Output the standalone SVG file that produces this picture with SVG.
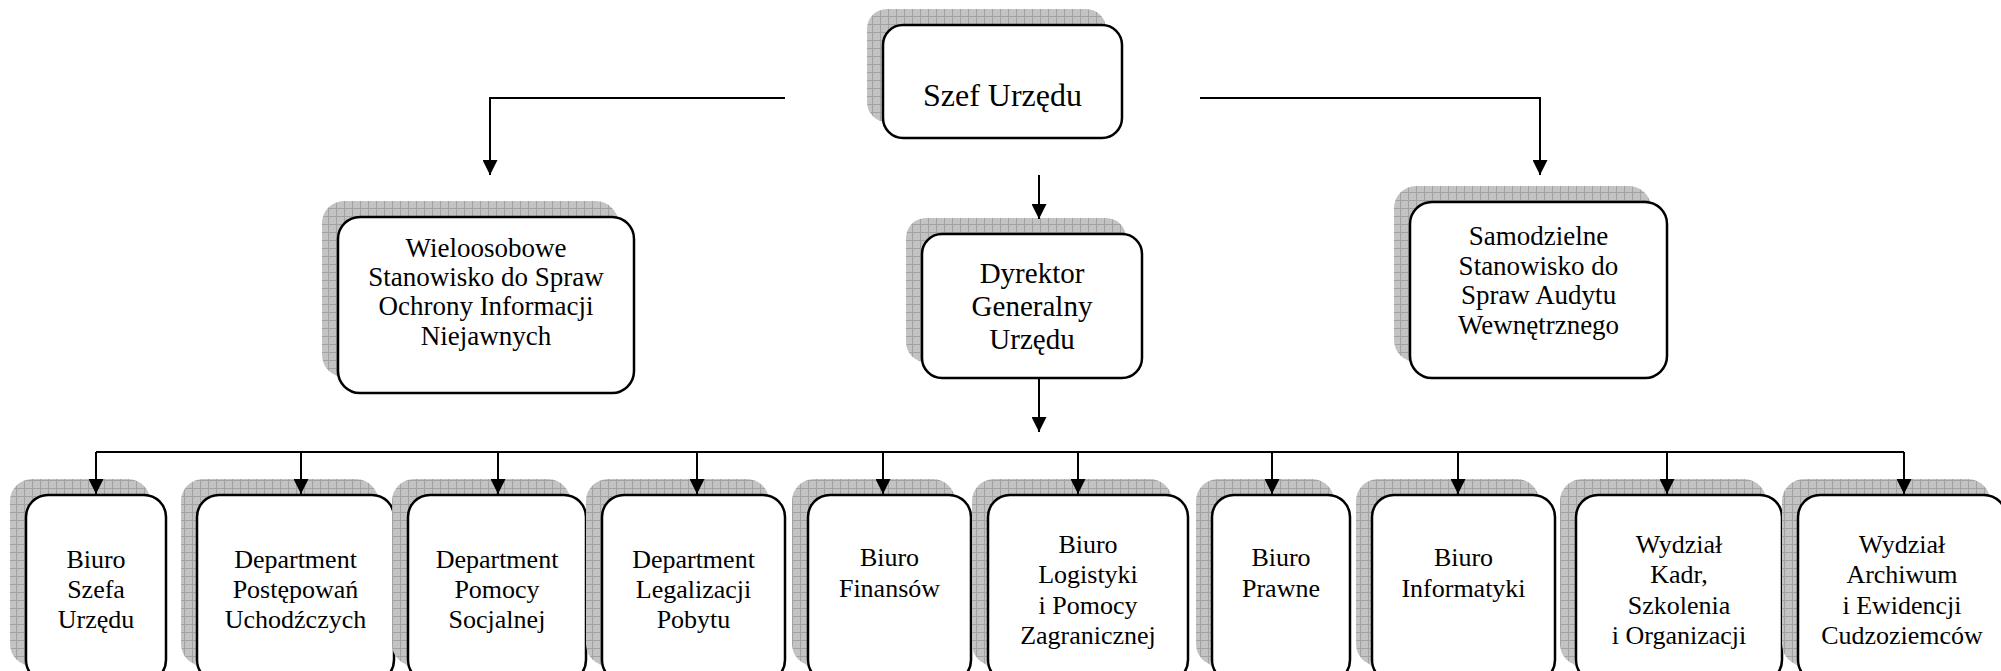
<svg xmlns="http://www.w3.org/2000/svg" width="2001" height="671" viewBox="0 0 2001 671">
<style>
.box{fill:#fff;stroke:#000;stroke-width:2.5}
.shd{fill:url(#grid);stroke:none}
.t{font-family:"Liberation Serif","Times New Roman",serif;fill:#000;text-anchor:middle}
.con{fill:none;stroke:#000;stroke-width:2}
</style>
<defs>
<pattern id="grid" width="8" height="8" patternUnits="userSpaceOnUse">
<rect width="8" height="8" fill="#c3c3c3"/>
<path d="M0,0.5H8M0.5,0V8" stroke="#a2a2a2" stroke-width="1"/>
</pattern>
<marker id="arr" viewBox="0 0 10 10" refX="10" refY="5" markerWidth="15" markerHeight="15" markerUnits="userSpaceOnUse" orient="auto">
<path d="M0,0L10,5L0,10z" fill="#000"/>
</marker>
</defs>
<rect width="2001" height="671" fill="#fff"/>

<g id="szef">
<rect class="shd" x="867" y="9" width="239" height="113" rx="20"/>
<rect class="box" x="883" y="25" width="239" height="113" rx="20"/>
<text class="t" font-size="32" x="1002.5" y="106">Szef Urzędu</text>
</g>

<g id="wieloosobowe">
<rect class="shd" x="322" y="201" width="296" height="176" rx="22"/>
<rect class="box" x="338" y="217" width="296" height="176" rx="22"/>
<text class="t" font-size="27"><tspan x="486" y="257">Wieloosobowe</tspan><tspan x="486" y="286">Stanowisko do Spraw</tspan><tspan x="486" y="315">Ochrony Informacji</tspan><tspan x="486" y="345">Niejawnych</tspan></text>
</g>

<g id="dyrektor">
<rect class="shd" x="906" y="218" width="220" height="144" rx="20"/>
<rect class="box" x="922" y="234" width="220" height="144" rx="20"/>
<text class="t" font-size="29"><tspan x="1032" y="283">Dyrektor</tspan><tspan x="1032" y="316">Generalny</tspan><tspan x="1032" y="349">Urzędu</tspan></text>
</g>

<g id="samodzielne">
<rect class="shd" x="1394" y="186" width="257" height="176" rx="22"/>
<rect class="box" x="1410" y="202" width="257" height="176" rx="22"/>
<text class="t" font-size="27"><tspan x="1538.5" y="245">Samodzielne</tspan><tspan x="1538.5" y="275">Stanowisko do</tspan><tspan x="1538.5" y="304">Spraw Audytu</tspan><tspan x="1538.5" y="334">Wewnętrznego</tspan></text>
</g>

<g id="biuro-szefa">
<rect class="shd" x="10" y="479" width="140" height="187" rx="22"/>
<rect class="box" x="26" y="495" width="140" height="187" rx="22"/>
<text class="t" font-size="26"><tspan x="96" y="568">Biuro</tspan><tspan x="96" y="598">Szefa</tspan><tspan x="96" y="628">Urzędu</tspan></text>
</g>

<g id="dep-postepowan">
<rect class="shd" x="181" y="479" width="197" height="187" rx="22"/>
<rect class="box" x="197" y="495" width="197" height="187" rx="22"/>
<text class="t" font-size="26"><tspan x="295.5" y="568">Department</tspan><tspan x="295.5" y="598">Postępowań</tspan><tspan x="295.5" y="628">Uchodźczych</tspan></text>
</g>

<g id="dep-pomocy">
<rect class="shd" x="392" y="479" width="178" height="187" rx="22"/>
<rect class="box" x="408" y="495" width="178" height="187" rx="22"/>
<text class="t" font-size="26"><tspan x="497" y="568">Department</tspan><tspan x="497" y="598">Pomocy</tspan><tspan x="497" y="628">Socjalnej</tspan></text>
</g>

<g id="dep-legalizacji">
<rect class="shd" x="586" y="479" width="183" height="187" rx="22"/>
<rect class="box" x="602" y="495" width="183" height="187" rx="22"/>
<text class="t" font-size="26"><tspan x="693.5" y="568">Department</tspan><tspan x="693.5" y="598">Legalizacji</tspan><tspan x="693.5" y="628">Pobytu</tspan></text>
</g>

<g id="biuro-finansow">
<rect class="shd" x="792" y="479" width="163" height="187" rx="22"/>
<rect class="box" x="808" y="495" width="163" height="187" rx="22"/>
<text class="t" font-size="26"><tspan x="889.5" y="566">Biuro</tspan><tspan x="889.5" y="597">Finansów</tspan></text>
</g>

<g id="biuro-logistyki">
<rect class="shd" x="972" y="479" width="200" height="187" rx="22"/>
<rect class="box" x="988" y="495" width="200" height="187" rx="22"/>
<text class="t" font-size="26"><tspan x="1088" y="553">Biuro</tspan><tspan x="1088" y="583">Logistyki</tspan><tspan x="1088" y="614">i Pomocy</tspan><tspan x="1088" y="644">Zagranicznej</tspan></text>
</g>

<g id="biuro-prawne">
<rect class="shd" x="1196" y="479" width="138" height="187" rx="22"/>
<rect class="box" x="1212" y="495" width="138" height="187" rx="22"/>
<text class="t" font-size="26"><tspan x="1281" y="566">Biuro</tspan><tspan x="1281" y="597">Prawne</tspan></text>
</g>

<g id="biuro-informatyki">
<rect class="shd" x="1356" y="479" width="183" height="187" rx="22"/>
<rect class="box" x="1372" y="495" width="183" height="187" rx="22"/>
<text class="t" font-size="26"><tspan x="1463.5" y="566">Biuro</tspan><tspan x="1463.5" y="597">Informatyki</tspan></text>
</g>

<g id="wydzial-kadr">
<rect class="shd" x="1560" y="479" width="206" height="187" rx="22"/>
<rect class="box" x="1576" y="495" width="206" height="187" rx="22"/>
<text class="t" font-size="26"><tspan x="1679" y="553">Wydział</tspan><tspan x="1679" y="583">Kadr,</tspan><tspan x="1679" y="614">Szkolenia</tspan><tspan x="1679" y="644">i Organizacji</tspan></text>
</g>

<g id="wydzial-archiwum">
<rect class="shd" x="1782" y="479" width="208" height="187" rx="22"/>
<rect class="box" x="1798" y="495" width="208" height="187" rx="22"/>
<text class="t" font-size="26"><tspan x="1902" y="553">Wydział</tspan><tspan x="1902" y="583">Archiwum</tspan><tspan x="1902" y="614">i Ewidencji</tspan><tspan x="1902" y="644">Cudzoziemców</tspan></text>
</g>

<g id="connectors">
<path class="con" d="M785,98H490V175" marker-end="url(#arr)"/>
<path class="con" d="M1200,98H1540V175" marker-end="url(#arr)"/>
<path class="con" d="M1039,175V219" marker-end="url(#arr)"/>
<path class="con" d="M1039,378V432" marker-end="url(#arr)"/>
<path class="con" d="M96,452H1904"/>
<path class="con" d="M96,452V494" marker-end="url(#arr)"/>
<path class="con" d="M301,452V494" marker-end="url(#arr)"/>
<path class="con" d="M498,452V494" marker-end="url(#arr)"/>
<path class="con" d="M697,452V494" marker-end="url(#arr)"/>
<path class="con" d="M883,452V494" marker-end="url(#arr)"/>
<path class="con" d="M1078,452V494" marker-end="url(#arr)"/>
<path class="con" d="M1272,452V494" marker-end="url(#arr)"/>
<path class="con" d="M1458,452V494" marker-end="url(#arr)"/>
<path class="con" d="M1667,452V494" marker-end="url(#arr)"/>
<path class="con" d="M1904,452V494" marker-end="url(#arr)"/>
</g>
</svg>
